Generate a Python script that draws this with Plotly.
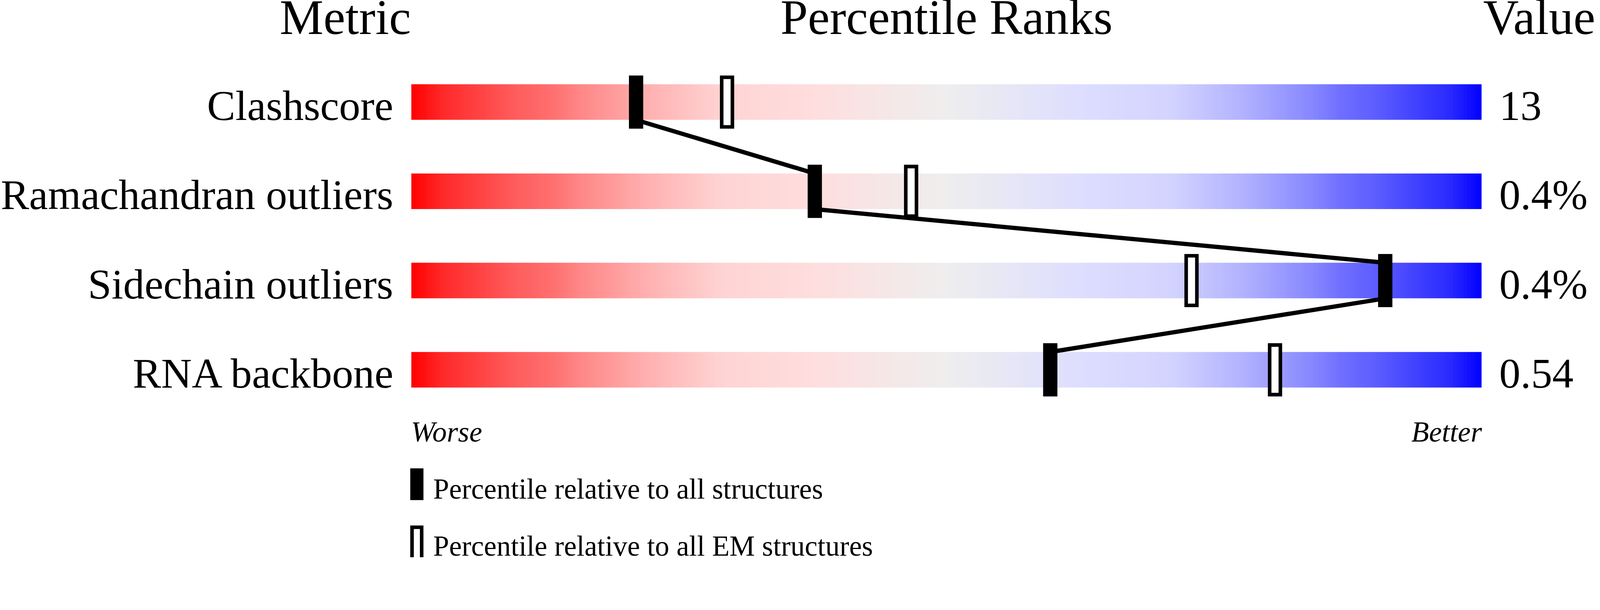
import numpy as np
import plotly.graph_objects as go

# values
metrics = ["Clashscore", "Ramachandran outliers", "Sidechain outliers", "RNA backbone"]
values = ["13", "0.4%", "0.4%", "0.54"]
pct_all = [21.0, 37.7, 91.0, 59.7]   # percentile relative to all structures
pct_em = [29.5, 46.7, 72.9, 80.7]    # percentile relative to all EM structures

headers = ["Metric", "Percentile Ranks", "Value"]
scale_ends = ["Worse", "Better"]
legend_labels = ["Percentile relative to all structures",
                 "Percentile relative to all EM structures"]

# red -> grey -> blue slider colours
grad = [
    [0.00, "#ff0000"], [0.03, "#ff2a2a"], [0.06, "#ff4040"], [0.10, "#ff5e5e"],
    [0.13, "#ff6e6e"], [0.16, "#ff8888"], [0.22, "#ffb0b0"], [0.29, "#ffd3d3"],
    [0.37, "#ffdddd"], [0.50, "#eeeeee"], [0.63, "#ddddff"], [0.71, "#d3d3ff"],
    [0.78, "#b0b0ff"], [0.84, "#8888ff"], [0.87, "#6e6eff"], [0.90, "#5e5eff"],
    [0.94, "#4040ff"], [0.97, "#2a2aff"], [1.00, "#0000ff"],
]

# layout is worked out in screen pixels of the 4485x1561 shot;
# the page is drawn with a device pixel ratio of about 1.095
W, H = 4485, 1561
S = 1 / 1.095
ROW0, STEP = 286, 250       # pixel centre of first row, row spacing
BAR_LEFT, BAR_RIGHT = 1153, 4153
FONT = "Liberation Serif, Times New Roman, serif"


def px(x):
    return x / W


def py(y):
    return 1 - y / H


n = len(metrics)
fig = go.Figure()

# gradient bars
edges = np.linspace(0, 100, 301)
centers = (edges[:-1] + edges[1:]) / 2
for i in range(n):
    fig.add_trace(go.Heatmap(
        x=edges, y=[i - 0.2, i + 0.2], z=[centers],
        colorscale=grad, zmin=0, zmax=100, showscale=False, hoverinfo="skip",
    ))

# markers
fig.add_trace(go.Bar(
    x=pct_em, y=[0.556] * n, base=[i - 0.278 for i in range(n)], width=1.0,
    marker=dict(color="white", line=dict(color="black", width=10 * S)),
    hoverinfo="skip",
))
fig.add_trace(go.Bar(
    x=pct_all, y=[0.556] * n, base=[i - 0.278 for i in range(n)], width=1.0,
    marker=dict(color="black", line=dict(color="black", width=10 * S)),
    hoverinfo="skip",
))

# connecting line between the "all structures" markers
lx, ly = [], []
for i in range(n):
    if i > 0:
        lx.append(pct_all[i]); ly.append(i - 0.2)
    if i < n - 1:
        lx.append(pct_all[i]); ly.append(i + 0.2)
fig.add_trace(go.Scatter(x=lx, y=ly, mode="lines",
                         line=dict(color="black", width=12 * S), hoverinfo="skip"))


def text(s, x, base_px, size, anchor, italic=False):
    fig.add_annotation(
        text=s, x=px(x), y=py(base_px - 0.3375 * size), xref="paper", yref="paper",
        xanchor=anchor, yanchor="middle", showarrow=False,
        font=dict(family=FONT, size=size * S, color="black",
                  style="italic" if italic else "normal"),
    )


text(headers[0], 968, 95, 138, "center")
text(headers[1], (BAR_LEFT + BAR_RIGHT) / 2, 95, 138, "center")
text(headers[2], 4155, 95, 138, "left")

for i in range(n):
    base = ROW0 + STEP * i + 50
    text(metrics[i], 1105, base, 119, "right")
    text(values[i], 4200, base, 119, "left")

text(scale_ends[0], 1150, 1237, 81, "left", italic=True)
text(scale_ends[1], 4156, 1237, 81, "right", italic=True)

text(legend_labels[0], 1212, 1397, 80, "left")
text(legend_labels[1], 1212, 1557, 80, "left")

# legend keys
fig.add_shape(type="rect", xref="paper", yref="paper",
              x0=px(1150), x1=px(1187), y0=py(1312), y1=py(1401),
              fillcolor="black", line=dict(width=0))
fig.add_shape(type="rect", xref="paper", yref="paper",
              x0=px(1155), x1=px(1182), y0=py(1477), y1=py(1620),
              fillcolor="white", line=dict(color="black", width=10 * S))

fig.update_layout(
    width=round(W * S), height=round(H * S),
    margin=dict(l=0, r=0, t=0, b=0),
    paper_bgcolor="white", plot_bgcolor="white",
    showlegend=False, barmode="overlay",
    xaxis=dict(domain=[px(BAR_LEFT), px(BAR_RIGHT)], range=[0, 100], visible=False),
    yaxis=dict(domain=[0, 1], range=[(H - ROW0) / STEP, -ROW0 / STEP], visible=False),
)

fig.write_html("out.html", config={"displayModeBar": False},
               post_script="document.body.style.margin='0px';")
